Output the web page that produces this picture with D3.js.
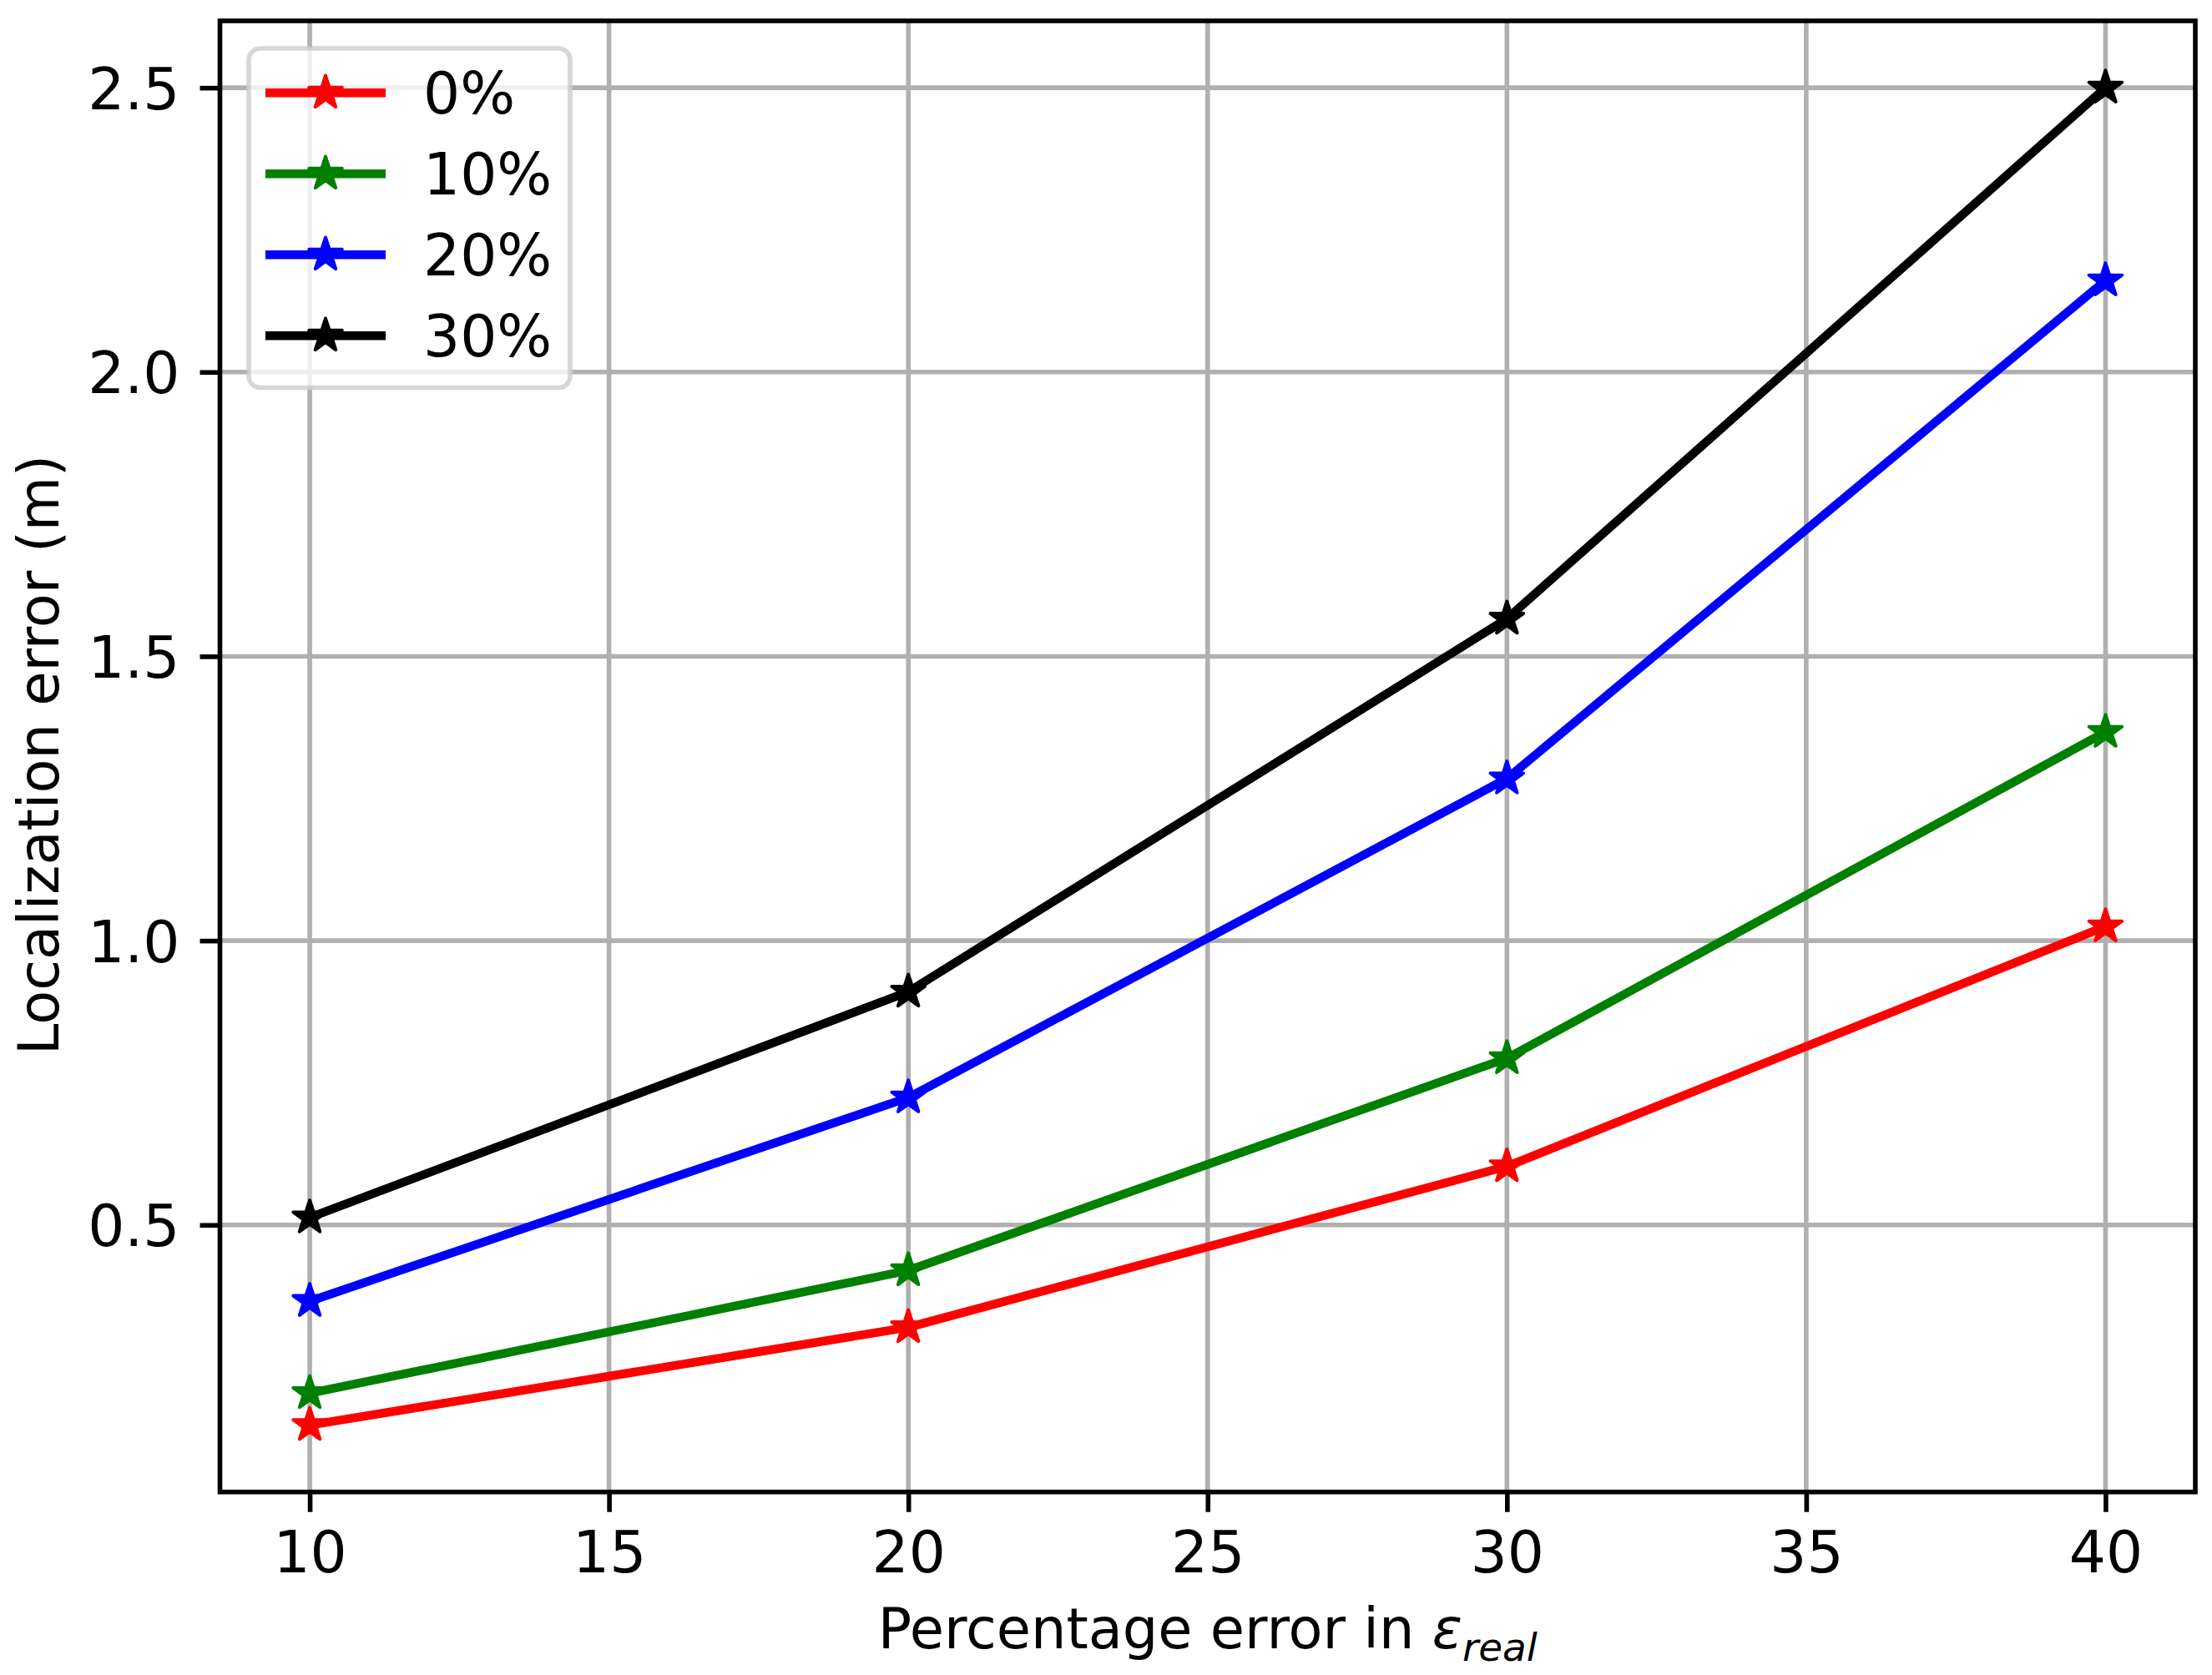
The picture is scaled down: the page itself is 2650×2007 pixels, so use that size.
<!DOCTYPE html>
<html>
<head>
<meta charset="utf-8">
<script src="https://cdn.jsdelivr.net/npm/d3@7"></script>
<style>
  html, body { margin: 0; padding: 0; background: #fff; }
  svg { display: block; }
  text { font-family: "DejaVu Sans", sans-serif; }
</style>
</head>
<body>
<svg id="chart" width="2650" height="2007"></svg>
<script>
// ---- data ----
const xValues = [10, 20, 30, 40];
const seriesNames = ["0%", "10%", "20%", "30%"];
const seriesColors = ["#ff0000", "#008000", "#0000ff", "#000000"];
const red0 = [0.148, 0.320, 0.603, 1.025];
const green10 = [0.204, 0.420, 0.793, 1.367];
const blue20 = [0.366, 0.724, 1.285, 2.161];
const black30 = [0.513, 0.910, 1.566, 2.500];
const xTicks = [10, 15, 20, 25, 30, 35, 40];
const yTicks = [0.5, 1.0, 1.5, 2.0, 2.5];
const xLabelMain = "Percentage error in ";
const xLabelSym = "ε";
const xLabelSub = "real";
const yLabel = "Localization error (m)";

const seriesValues = [red0, green10, blue20, black30];

// ---- layout ----
const L = 263.5, R = 2630, T = 25, B = 1787.7;
const fs = 69.4;
const lfs = 67;
const lw = 5.6;
const svg = d3.select("#chart");

// matplotlib-style 5% margins
const xMin = d3.min(xValues), xMax = d3.max(xValues);
const allY = seriesValues.flat();
const yMin = d3.min(allY), yMax = d3.max(allY);
const xPad = 0.05 * (xMax - xMin), yPad = 0.05 * (yMax - yMin);

const x = d3.scaleLinear().domain([xMin - xPad, xMax + xPad]).range([L, R]);
const y = d3.scaleLinear().domain([yMin - yPad, yMax + yPad]).range([B, T]);

// grid
const grid = svg.append("g");
grid.selectAll("line.gx").data(xTicks).join("line")
  .attr("x1", d => x(d)).attr("x2", d => x(d)).attr("y1", T).attr("y2", B)
  .attr("stroke", "#b0b0b0").attr("stroke-width", lw);
grid.selectAll("line.gy").data(yTicks).join("line")
  .attr("y1", d => y(d)).attr("y2", d => y(d)).attr("x1", L).attr("x2", R)
  .attr("stroke", "#b0b0b0").attr("stroke-width", lw);

// axes via d3 axes
const xAxis = d3.axisBottom(x).tickValues(xTicks).tickSize(24).tickPadding(0).tickFormat(d3.format("d"));
const yAxis = d3.axisLeft(y).tickValues(yTicks).tickSize(24).tickPadding(24).tickFormat(d3.format(".1f"));

const gx = svg.append("g").attr("transform", `translate(0,${B})`).call(xAxis);
gx.select(".domain").remove();
gx.selectAll(".tick line").attr("stroke", "#000").attr("stroke-width", lw);
gx.selectAll(".tick text").attr("font-size", fs).attr("fill", "#000")
  .attr("font-family", "DejaVu Sans").attr("dy", null).attr("y", 96);

const gy = svg.append("g").attr("transform", `translate(${L},0)`).call(yAxis);
gy.select(".domain").remove();
gy.selectAll(".tick line").attr("stroke", "#000").attr("stroke-width", lw);
gy.selectAll(".tick text").attr("font-size", fs).attr("fill", "#000")
  .attr("font-family", "DejaVu Sans").attr("dy", null).attr("y", 25).attr("x", -48);

// series lines + markers
const line = d3.line().x((d, i) => x(xValues[i])).y(d => y(d));
const star = d3.symbol().type(d3.symbolStar).size(20.8 * 20.8 / 0.8908130915292852);

seriesValues.forEach((vals, si) => {
  const g = svg.append("g");
  g.append("path").datum(vals).attr("d", line)
    .attr("fill", "none").attr("stroke", seriesColors[si])
    .attr("stroke-width", 10.4).attr("stroke-linejoin", "round").attr("stroke-linecap", "square");
  g.selectAll("path.m").data(vals).join("path").attr("class", "m")
    .attr("d", star)
    .attr("transform", (d, i) => `translate(${x(xValues[i])},${y(d)})`)
    .attr("fill", seriesColors[si]).attr("stroke", seriesColors[si])
    .attr("stroke-width", 4).attr("stroke-linejoin", "round");
});

// spines
svg.append("rect").attr("x", L).attr("y", T).attr("width", R - L).attr("height", B - T)
  .attr("fill", "none").attr("stroke", "#000").attr("stroke-width", lw)
  .attr("stroke-linejoin", "miter");

// legend
const lg = svg.append("g");
lg.append("rect").attr("x", 298).attr("y", 58).attr("width", 683 - 298).attr("height", 464.5 - 58)
  .attr("rx", 14).attr("ry", 14)
  .attr("fill", "rgba(255,255,255,0.8)").attr("stroke", "rgba(204,204,204,0.8)").attr("stroke-width", lw);
const rowY = [111.3, 208.3, 305.3, 402.3];
seriesNames.forEach((name, i) => {
  const gy0 = rowY[i];
  lg.append("line").attr("x1", 318).attr("x2", 462).attr("y1", gy0).attr("y2", gy0)
    .attr("stroke", seriesColors[i]).attr("stroke-width", 10.4);
  lg.append("path").attr("d", star).attr("transform", `translate(390,${gy0})`)
    .attr("fill", seriesColors[i]).attr("stroke", seriesColors[i])
    .attr("stroke-width", 4).attr("stroke-linejoin", "round");
  lg.append("text").attr("x", 507).attr("y", gy0 + 25).attr("font-size", fs)
    .attr("fill", "#000").text(name);
});

// axis labels
const xl = svg.append("text").attr("x", (L + R) / 2).attr("y", 1975)
  .attr("text-anchor", "middle").attr("font-size", lfs).attr("fill", "#000");
xl.append("tspan").text(xLabelMain);
xl.append("tspan").attr("font-style", "italic").text(xLabelSym);
xl.append("tspan").attr("font-style", "italic").attr("font-size", lfs * 0.7).attr("dy", 15).text(xLabelSub);

svg.append("text").attr("transform", `translate(70,${(T + B) / 2 - 2}) rotate(-90)`)
  .attr("text-anchor", "middle").attr("font-size", lfs).attr("fill", "#000").text(yLabel);
</script>
</body>
</html>
